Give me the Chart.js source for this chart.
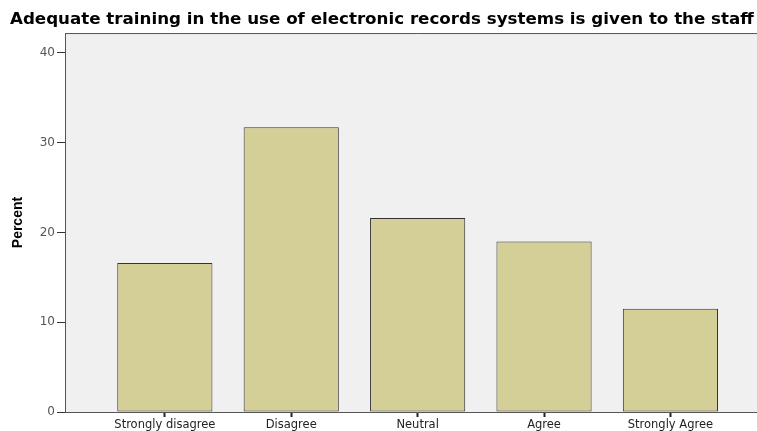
<!DOCTYPE html>
<html>

<head>
    <meta charset="utf-8">
    <title>Adequate training</title>
    <script src="https://cdn.jsdelivr.net/npm/chart.js@4/dist/chart.umd.min.js"></script>
    <style>
        body { margin: 0; overflow: hidden; background: #fff; }
    </style>
</head>

<body>
    <canvas id="barchart" width="790" height="431"></canvas>
</body>

<script>
    // values
    var categories = ["Strongly disagree", "Disagree", "Neutral", "Agree", "Strongly Agree"];
    var percents = [16.6, 31.7, 21.6, 19.0, 11.5];
    var yTicks = [0, 10, 20, 30, 40];

    // grey plot background + frame
    var plotFrame = {
        id: 'plotFrame',
        beforeDraw: function (chart) {
            var a = chart.chartArea, ctx = chart.ctx;
            ctx.save();
            ctx.fillStyle = '#f0f0f0';
            ctx.fillRect(a.left, a.top, a.right - a.left, a.bottom - a.top);
            ctx.restore();
        },
        afterDraw: function (chart) {
            var a = chart.chartArea, ctx = chart.ctx;
            ctx.save();
            ctx.strokeStyle = '#555';
            ctx.lineWidth = 1;
            ctx.beginPath();
            ctx.moveTo(a.left + 0.5, a.bottom);
            ctx.lineTo(a.left + 0.5, a.top + 0.5);
            ctx.lineTo(a.right, a.top + 0.5);
            ctx.stroke();
            ctx.restore();
        }
    };

    var ctx = document.getElementById('barchart').getContext('2d');
    var bar_chart = new Chart(ctx, {
        type: 'bar',
        plugins: [plotFrame],
        data: {
            datasets: [{
                label: 'Percent',
                data: percents.map(function (v, i) { return { x: i, y: v }; }),
                backgroundColor: '#d3cf97',
                borderColor: '#333',
                borderWidth: 1,
                borderSkipped: false,
                barPercentage: 0.753,
                categoryPercentage: 1
            }]
        },
        options: {
            responsive: false,
            animation: false,
            layout: { padding: { left: 10, right: 21, top: 0, bottom: 0 } },
            plugins: {
                legend: { display: false },
                tooltip: { enabled: false },
                title: {
                    display: true,
                    text: 'Adequate training in the use of electronic records systems is given to the staff',
                    align: 'start',
                    color: '#000',
                    font: { family: 'DejaVu Sans', size: 16.7, weight: 'bold', lineHeight: 1.2 },
                    padding: { top: 10, bottom: 3 }
                }
            },
            scales: {
                x: {
                    type: 'linear',
                    offset: false,
                    min: -0.79,
                    max: 4.78,
                    afterBuildTicks: function (scale) {
                        scale.ticks = categories.map(function (c, i) { return { value: i }; });
                    },
                    afterFit: function (scale) { scale.height = 19; },
                    ticks: {
                        autoSkip: false,
                        maxRotation: 0,
                        padding: 2,
                        color: '#222',
                        font: { family: 'DejaVu Sans', size: 11.5, lineHeight: 1.1 },
                        callback: function (v) { return categories[v]; }
                    },
                    grid: { offset: false, drawOnChartArea: false, tickLength: 5, tickWidth: 2, tickColor: '#222' },
                    border: { display: true, color: '#555' }
                },
                y: {
                    min: 0,
                    max: 42.2,
                    afterBuildTicks: function (scale) {
                        scale.ticks = yTicks.map(function (v) { return { value: v }; });
                    },
                    afterFit: function (scale) { scale.width = 55; },
                    ticks: {
                        padding: 2,
                        color: '#555',
                        font: { family: 'DejaVu Sans', size: 12 }
                    },
                    grid: { drawOnChartArea: false, tickLength: 8, tickColor: '#333' },
                    border: { display: true, color: '#555' },
                    title: {
                        display: true,
                        text: 'Percent',
                        color: '#000',
                        padding: 0,
                        font: { family: 'Liberation Sans, Arial', size: 14, weight: 'bold' }
                    }
                }
            }
        }
    });
</script>

</html>
